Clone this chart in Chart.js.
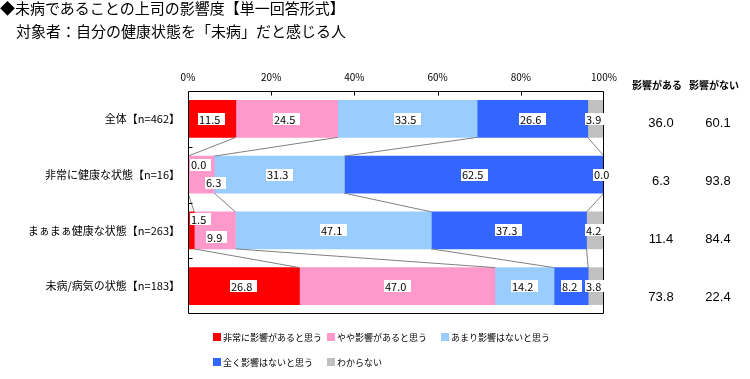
<!DOCTYPE html>
<html lang="ja">
<head>
<meta charset="UTF-8">
<title>未病であることの上司の影響度</title>
<script src="https://cdn.jsdelivr.net/npm/chart.js@4.4.1/dist/chart.umd.min.js"></script>
<style>
  body { margin: 0; background: #fff; font-family: 'Noto Sans CJK JP', sans-serif; }
  #wrap { position: relative; width: 750px; height: 379px; }
  .title { position: absolute; left: 0; top: 0; font-size: 15px; line-height: 16px; color: #000; white-space: nowrap; }
  .sub { position: absolute; left: 16px; top: 23px; font-size: 15px; line-height: 16px; color: #000; white-space: nowrap; }
  #legend { position: absolute; left: 213px; top: 330px; display: grid; grid-template-columns: 114px 114px 140px; grid-auto-rows: 25px; font-size: 9px; color: #000; }
  #legend span.item { display: flex; align-items: center; height: 14px; white-space: nowrap; }
  #legend i { display: inline-block; flex-shrink: 0; width: 8px; height: 8px; margin-right: 2px; }
</style>
</head>
<body>
<div id="wrap">
  <canvas id="myChart"></canvas>
  <div class="title">◆未病であることの上司の影響度【単一回答形式】</div>
  <div class="sub">対象者：自分の健康状態を「未病」だと感じる人</div>
  <div id="legend"></div>
</div>
<script>
const categories = ['全体【n=462】', '非常に健康な状態【n=16】', 'まぁまぁ健康な状態【n=263】', '未病/病気の状態【n=183】']
const seriesNames = ['非常に影響があると思う', 'やや影響があると思う', 'あまり影響はないと思う', '全く影響はないと思う', 'わからない']
const veryMuch = [11.5, 0.0, 1.5, 26.8]
const somewhat = [24.5, 6.3, 9.9, 47.0]
const notMuch = [33.5, 31.3, 47.1, 14.2]
const notAtAll = [26.6, 62.5, 37.3, 8.2]
const dontKnow = [3.9, 0.0, 4.2, 3.8]
const colors = ['#FF0000', '#FF99CC', '#99CCFF', '#3366FF', '#C0C0C0']
const sideHeaders = ['影響がある', '影響がない']
const affected = [36.0, 6.3, 11.4, 73.8]
const notAffected = [60.1, 93.8, 84.4, 22.4]

const series = [veryMuch, somewhat, notMuch, notAtAll, dontKnow]

// nudges for the labels of very thin segments ("row-series": [dx, dy])
const nudge = { '1-0': [13, -10], '1-1': [15, 8], '2-0': [10, -11], '2-1': [2, 7] }

// legend (html)
const legend = document.getElementById('legend')
seriesNames.forEach((name, k) => {
    const el = document.createElement('span')
    el.className = 'item'
    el.innerHTML = `<i style="background:${colors[k]}"></i>${name}`
    legend.appendChild(el)
})

const overlay = {
    id: 'overlay',
    afterDatasetsDraw(chart) {
        const ctx = chart.ctx
        const { left, right, top, bottom } = chart.chartArea
        const xs = chart.scales.x, ys = chart.scales.y
        ctx.save()

        // connector lines between bars
        ctx.strokeStyle = '#808080'
        ctx.lineWidth = 1
        for (let i = 0; i < categories.length - 1; i++) {
            const b0 = chart.getDatasetMeta(0).data[i]
            const b1 = chart.getDatasetMeta(0).data[i + 1]
            const y0 = b0.y + b0.height / 2, y1 = b1.y - b1.height / 2
            let c0 = 0, c1 = 0
            for (let s = 0; s < series.length - 1; s++) {
                c0 += series[s][i]; c1 += series[s][i + 1]
                ctx.beginPath()
                ctx.moveTo(xs.getPixelForValue(Math.min(c0, 100)), y0)
                ctx.lineTo(xs.getPixelForValue(Math.min(c1, 100)), y1)
                ctx.stroke()
            }
        }

        // frame + inward ticks
        ctx.strokeStyle = '#000'
        const L = Math.round(left) + 0.5, R = Math.round(right) - 0.5
        const T = Math.round(top) + 0.5, B = Math.round(bottom) - 0.5
        ctx.beginPath()
        ctx.moveTo(L, T); ctx.lineTo(R, T); ctx.lineTo(R, B); ctx.lineTo(L, B); ctx.closePath()
        ctx.stroke()
        ctx.beginPath()
        for (let v = 20; v < 100; v += 20) {
            const x = Math.round(xs.getPixelForValue(v)) + 0.5
            ctx.moveTo(x, T); ctx.lineTo(x, T + 4)
        }
        for (let i = 0; i < categories.length - 1; i++) {
            const y = Math.round((ys.getPixelForValue(i) + ys.getPixelForValue(i + 1)) / 2) + 0.5
            ctx.moveTo(L, y); ctx.lineTo(L + 4, y)
        }
        ctx.stroke()

        // data labels
        ctx.font = "11px 'Noto Sans CJK JP', sans-serif"
        ctx.textBaseline = 'middle'
        ctx.textAlign = 'left'
        series.forEach((vals, s) => {
            chart.getDatasetMeta(s).data.forEach((bar, i) => {
                const txt = vals[i].toFixed(1)
                const d = nudge[i + '-' + s] || [0, 0]
                const cx = Math.min((bar.x + bar.base) / 2, right) + d[0]
                const cy = bar.y + d[1]
                const tw = ctx.measureText(txt).width
                const w = tw + 6, h = 12
                ctx.fillStyle = '#fff'
                ctx.fillRect(Math.round(cx - w / 2), Math.round(cy - h / 2), Math.round(w), h)
                ctx.fillStyle = '#000'
                ctx.fillText(txt, Math.round(cx - w / 2) + 1, cy + 0.5)
            })
        })

        // right-hand columns
        const colX = [661, 718]
        ctx.textAlign = 'center'
        ctx.font = "bold 10px 'Noto Sans CJK JP', sans-serif"
        sideHeaders.forEach((h, k) => ctx.fillText(h, colX[k] - 4, 85))
        ctx.font = "13px 'Liberation Sans', sans-serif"
        ;[affected, notAffected].forEach((vals, k) => {
            vals.forEach((v, i) => {
                ctx.fillText(v.toFixed(1), colX[k], top + 32 + i * 58.3)
            })
        })
        ctx.restore()
    }
}

const ctx = document.getElementById('myChart').getContext('2d')
const myChart = new Chart(ctx, {
    type: 'bar',
    data: {
        labels: categories,
        datasets: series.map((vals, k) => ({
            label: seriesNames[k],
            data: vals,
            backgroundColor: colors[k],
            borderWidth: 0,
            barThickness: 37
        }))
    },
    options: {
        indexAxis: 'y',
        responsive: true,
        maintainAspectRatio: false,
        animation: false,
        events: [],
        layout: { padding: { left: 0, right: 146, top: 0, bottom: 65 } },
        plugins: { legend: { display: false }, tooltip: { enabled: false } },
        scales: {
            x: {
                stacked: true,
                position: 'top',
                min: 0,
                max: 100,
                afterFit(scale) { scale.height = 91 },
                grid: { display: false, drawTicks: false },
                border: { display: false },
                ticks: {
                    stepSize: 20,
                    padding: 8,
                    color: '#000',
                    font: { size: 10, family: "'Noto Sans CJK JP', sans-serif" },
                    callback: v => v + '%'
                }
            },
            y: {
                stacked: true,
                afterFit(scale) { scale.width = 188 },
                grid: { display: false, drawTicks: false },
                border: { display: false },
                ticks: {
                    padding: 8,
                    color: '#000',
                    font: { size: 11, family: "'Noto Sans CJK JP', sans-serif" }
                }
            }
        }
    },
    plugins: [overlay]
})
</script>
</body>
</html>
